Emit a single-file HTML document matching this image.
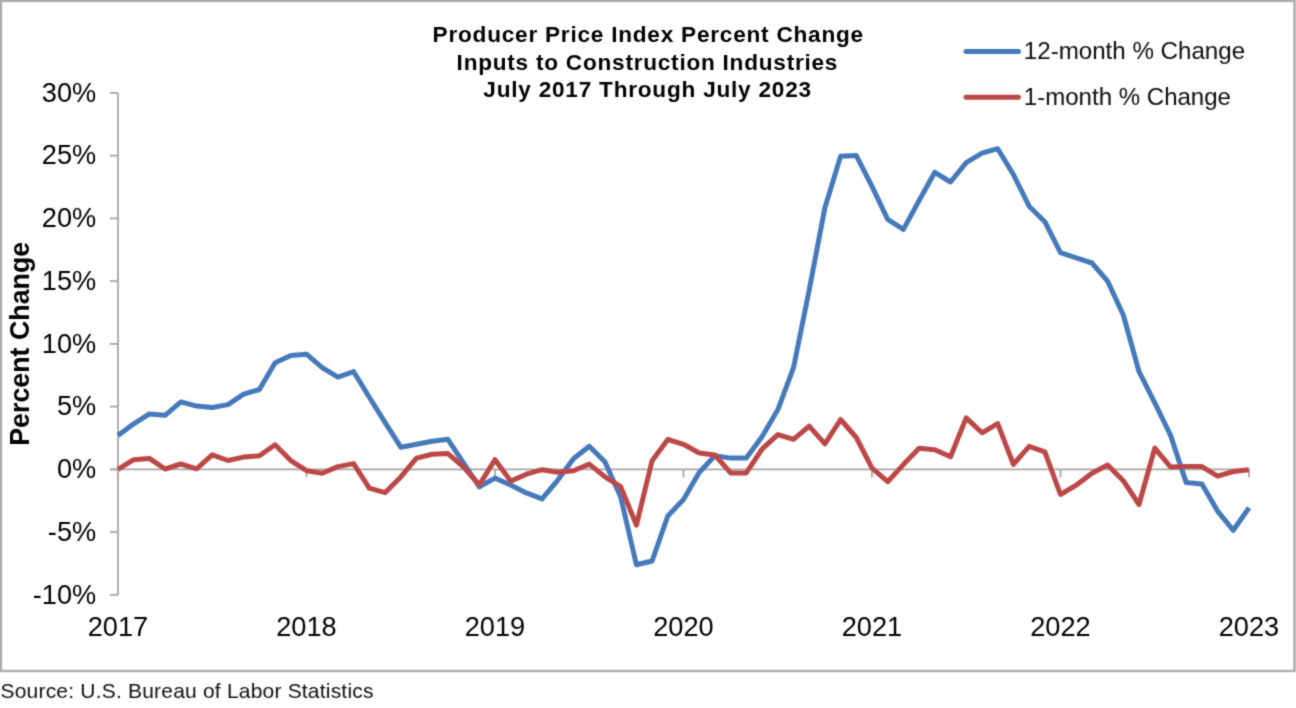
<!DOCTYPE html>
<html><head><meta charset="utf-8"><title>PPI Chart</title>
<style>html,body{margin:0;padding:0;background:#fff;}body{width:1296px;height:708px;overflow:hidden;font-family:"Liberation Sans",sans-serif;}svg{display:block;}#c{width:1296px;height:708px;}</style>
</head><body>
<div id="c"><svg width="1296" height="708" viewBox="0 0 1296 708">
<defs><filter id="soft" x="0" y="0" width="1296" height="708" filterUnits="userSpaceOnUse"><feConvolveMatrix order="3" kernelMatrix="1 2 1 2 12 2 1 2 1" divisor="24" edgeMode="duplicate" preserveAlpha="false"/></filter></defs>
<rect x="0" y="0" width="1296" height="708" fill="#ffffff"/>
<g filter="url(#soft)">
<rect x="1" y="1" width="1293.5" height="670" fill="none" stroke="#acacac" stroke-width="2.4"/>
<g font-family="Liberation Sans, sans-serif" font-weight="bold" font-size="22.6" fill="#000" lengthAdjust="spacing">
<text x="432.6" y="42.1" textLength="430.5">Producer Price Index Percent Change</text>
<text x="456.6" y="69.6" textLength="380.8">Inputs to Construction Industries</text>
<text x="483.3" y="96.9" textLength="327.8">July 2017 Through July 2023</text>
</g>
<text transform="translate(29,343.8) rotate(-90)" font-family="Liberation Sans, sans-serif" font-weight="bold" font-size="26.8" text-anchor="middle" fill="#000">Percent Change</text>
<g stroke="#a6a6a6" stroke-width="1.8" fill="none">
<line x1="118" y1="92.9" x2="118" y2="594.9"/>
<line x1="110" y1="469.4" x2="1249" y2="469.4"/>
<line x1="110" y1="92.9" x2="118" y2="92.9"/><line x1="110" y1="155.6" x2="118" y2="155.6"/><line x1="110" y1="218.4" x2="118" y2="218.4"/><line x1="110" y1="281.1" x2="118" y2="281.1"/><line x1="110" y1="343.9" x2="118" y2="343.9"/><line x1="110" y1="406.6" x2="118" y2="406.6"/><line x1="110" y1="469.4" x2="118" y2="469.4"/><line x1="110" y1="532.1" x2="118" y2="532.1"/><line x1="110" y1="594.9" x2="118" y2="594.9"/>
<line x1="118.0" y1="469.4" x2="118.0" y2="477.4"/><line x1="306.5" y1="469.4" x2="306.5" y2="477.4"/><line x1="495.0" y1="469.4" x2="495.0" y2="477.4"/><line x1="683.5" y1="469.4" x2="683.5" y2="477.4"/><line x1="872.0" y1="469.4" x2="872.0" y2="477.4"/><line x1="1060.5" y1="469.4" x2="1060.5" y2="477.4"/><line x1="1249.0" y1="469.4" x2="1249.0" y2="477.4"/>
</g>
<g font-family="Liberation Sans, sans-serif" font-size="27.2" fill="#000">
<text x="96.2" y="101.6" text-anchor="end">30%</text><text x="96.2" y="164.3" text-anchor="end">25%</text><text x="96.2" y="227.1" text-anchor="end">20%</text><text x="96.2" y="289.8" text-anchor="end">15%</text><text x="96.2" y="352.6" text-anchor="end">10%</text><text x="96.2" y="415.3" text-anchor="end">5%</text><text x="96.2" y="478.1" text-anchor="end">0%</text><text x="96.2" y="540.9" text-anchor="end">-5%</text><text x="96.2" y="603.6" text-anchor="end">-10%</text>
<text x="118.0" y="636" text-anchor="middle">2017</text><text x="306.5" y="636" text-anchor="middle">2018</text><text x="495.0" y="636" text-anchor="middle">2019</text><text x="683.5" y="636" text-anchor="middle">2020</text><text x="872.0" y="636" text-anchor="middle">2021</text><text x="1060.5" y="636" text-anchor="middle">2022</text><text x="1249.0" y="636" text-anchor="middle">2023</text>
</g>
<polyline points="118.0,435.4 133.7,423.8 149.4,413.9 165.1,415.3 180.8,401.9 196.5,406.1 212.2,407.5 228.0,404.6 243.7,394.1 259.4,389.5 275.1,362.7 290.8,355.4 306.5,354.2 322.2,367.7 337.9,377.2 353.6,371.6 369.3,397.2 385.0,422.3 400.8,447.2 416.5,444.3 432.2,441.3 447.9,439.3 463.6,463.1 479.3,486.8 495.0,478.1 510.7,485.0 526.4,492.9 542.1,498.9 557.8,480.1 573.5,458.7 589.2,446.3 605.0,461.9 620.7,497.0 636.4,564.8 652.1,561.0 667.8,516.0 683.5,499.5 699.2,472.5 714.9,455.8 730.6,458.1 746.3,458.1 762.0,436.8 777.8,409.8 793.5,367.7 809.2,289.9 824.9,207.7 840.6,156.3 856.3,155.6 872.0,186.4 887.7,219.3 903.4,229.4 919.1,200.5 934.8,172.3 950.5,182.0 966.2,162.6 982.0,153.1 997.7,148.7 1013.4,174.5 1029.1,206.2 1044.8,221.7 1060.5,252.7 1076.2,257.9 1091.9,263.0 1107.6,281.1 1123.3,315.0 1139.0,371.5 1154.8,402.9 1170.5,435.1 1186.2,482.6 1201.9,484.0 1217.6,511.1 1233.3,530.3 1249.0,507.7" fill="none" stroke="#4579ba" stroke-width="5.0" stroke-linejoin="round" stroke-linecap="butt"/>
<polyline points="118.0,469.4 133.7,459.7 149.4,458.4 165.1,469.0 180.8,464.0 196.5,468.8 212.2,454.8 228.0,460.5 243.7,457.1 259.4,455.7 275.1,444.8 290.8,460.6 306.5,470.7 322.2,473.2 337.9,466.6 353.6,463.6 369.3,488.2 385.0,492.7 400.8,476.9 416.5,458.1 432.2,454.2 447.9,453.6 463.6,467.0 479.3,484.8 495.0,459.7 510.7,481.1 526.4,474.2 542.1,469.7 557.8,472.2 573.5,470.7 589.2,464.1 605.0,476.9 620.7,486.7 636.4,525.1 652.1,460.7 667.8,439.5 683.5,444.3 699.2,453.0 714.9,455.0 730.6,472.9 746.3,472.9 762.0,449.1 777.8,434.6 793.5,439.3 809.2,426.2 824.9,443.8 840.6,419.5 856.3,437.5 872.0,468.1 887.7,481.7 903.4,464.6 919.1,448.3 934.8,449.8 950.5,456.8 966.2,417.9 982.0,432.8 997.7,423.6 1013.4,464.3 1029.1,446.4 1044.8,451.8 1060.5,494.5 1076.2,485.2 1091.9,473.2 1107.6,465.0 1123.3,480.7 1139.0,504.5 1154.8,448.1 1170.5,466.9 1186.2,466.6 1201.9,466.6 1217.6,476.1 1233.3,471.5 1249.0,469.7" fill="none" stroke="#bc4646" stroke-width="5.0" stroke-linejoin="round" stroke-linecap="butt"/>
<line x1="966" y1="51.6" x2="1018.5" y2="51.6" stroke="#4579ba" stroke-width="5.0" stroke-linecap="round"/>
<line x1="966" y1="97.3" x2="1018.5" y2="97.3" stroke="#bc4646" stroke-width="5.0" stroke-linecap="round"/>
<g font-family="Liberation Sans, sans-serif" font-size="24.6" fill="#0a0a0a" lengthAdjust="spacingAndGlyphs">
<text x="1023.8" y="59.2" textLength="221.3" lengthAdjust="spacingAndGlyphs">12-month % Change</text>
<text x="1023.8" y="105" textLength="207.2" lengthAdjust="spacingAndGlyphs">1-month % Change</text>
</g>
<text x="0.5" y="698.3" font-family="Liberation Sans, sans-serif" font-size="21" letter-spacing="0.2" fill="#111">Source: U.S. Bureau of Labor Statistics</text>
</g>
</svg></div>
</body></html>
